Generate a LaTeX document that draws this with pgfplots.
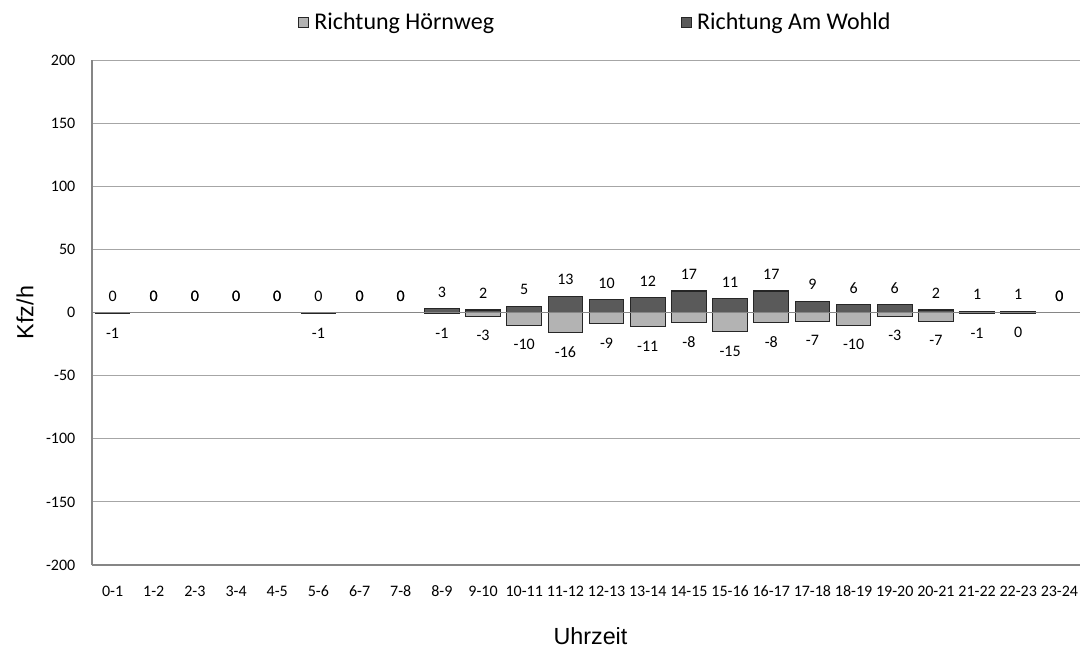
\documentclass[border=0pt]{standalone}
\usepackage{fontspec}
\setmainfont{Carlito}
\newfontfamily\arialfont{Liberation Sans}
\usepackage{pgfplots}
\usepackage{pgfplotstable}
\pgfplotsset{compat=1.18}

\definecolor{wohld}{HTML}{5A5A5A}
\definecolor{hoern}{HTML}{B3B3B3}
\definecolor{barline}{HTML}{262626}
\definecolor{gridc}{HTML}{A6A6A6}
\definecolor{axisc}{HTML}{868686}

% x: hour slot, w: Richtung Am Wohld, h: Richtung Hoernweg, hl: label of h
\pgfplotstableread{
x w h hl
0 0 -1 -1
1 0 0 0
2 0 0 0
3 0 0 0
4 0 0 0
5 0 -1 -1
6 0 0 0
7 0 0 0
8 3 -1 -1
9 2 -3 -3
10 5 -10 -10
11 13 -16 -16
12 10 -9 -9
13 12 -11 -11
14 17 -8 -8
15 11 -15 -15
16 17 -8 -8
17 9 -7 -7
18 6 -10 -10
19 6 -3 -3
20 2 -7 -7
21 1 -1 -1
22 1 -0.4 0
23 0 0 0
}\datatable

\begin{document}
\begin{tikzpicture}
\useasboundingbox (-69pt,-62.25pt) rectangle (746.25pt,423.75pt);
\begin{axis}[
    at={(0,0)}, anchor=south west,
    scale only axis,
    width=741pt, height=378.75pt,
    ybar, bar width=26pt, bar shift=0pt,
    xmin=-0.5, xmax=23.5,
    ymin=-200, ymax=200,
    ytick={-200,-150,...,200},
    xtick={0,...,23},
    xticklabels={0-1,1-2,2-3,3-4,4-5,5-6,6-7,7-8,8-9,9-10,10-11,11-12,12-13,13-14,14-15,15-16,16-17,17-18,18-19,19-20,20-21,21-22,22-23,23-24},
    /pgf/number format/assume math mode=true,
    tick label style={font=\fontsize{12}{14}\selectfont},
    xticklabel style={anchor=base, yshift=-24pt},
    yticklabel style={xshift=-9pt},
    major tick length=0pt,
    axis lines*=left,
    axis line style={color=axisc, line width=0.8pt},
    ymajorgrids, grid style={color=gridc, line width=0.6pt},
    extra y ticks={0}, extra y tick labels={},
    extra y tick style={grid style={color=axisc, line width=1.3pt}},
    axis on top,
    xlabel={\arialfont Uhrzeit},
    ylabel={\arialfont Kfz/h},
    label style={font=\fontsize{17.5}{20}\selectfont},
    xlabel style={at={(axis description cs:0.5045,-0.14)}, anchor=center},
    ylabel style={at={(axis description cs:-0.0678,0.5)}, anchor=center},
    legend style={at={(axis description cs:0.511,1.075)}, anchor=center,
        draw=none, fill=none, legend columns=2,
        font=\fontsize{18}{21}\selectfont,
        nodes={inner xsep=4pt},
        /tikz/every even column/.append style={column sep=136pt}},
    legend image code/.code={\draw[#1] (0pt,-3.75pt) rectangle (7.5pt,3.75pt);},
    nodes near coords style={font=\fontsize{12}{14}\selectfont},
]
\addplot[fill=hoern, draw=barline, line width=0.8pt]
    table[x=x, y=h] {\datatable};
\addlegendentry{Richtung Hörnweg}
\addplot[fill=wohld, draw=barline, line width=0.8pt,
    point meta=explicit symbolic, nodes near coords={\pgfplotspointmeta},
    every node near coord/.append style={anchor=base, yshift=8.5pt}]
    table[x=x, y=w, meta=w] {\datatable};
\addlegendentry{Richtung Am Wohld}
% labels of Richtung Hoernweg: below the bar when negative, above when zero
\addplot[draw=none, fill=none, forget plot,
    point meta=explicit symbolic, nodes near coords={\pgfplotspointmeta},
    y filter/.expression={\thisrow{h}<0 ? y : nan},
    every node near coord/.append style={anchor=base, yshift=-18.5pt}]
    table[x=x, y=h, meta=hl] {\datatable};
\addplot[draw=none, fill=none, forget plot,
    point meta=explicit symbolic, nodes near coords={\pgfplotspointmeta},
    y filter/.expression={\thisrow{h}<0 ? nan : y},
    every node near coord/.append style={anchor=base, yshift=8.5pt}]
    table[x=x, y=h, meta=hl] {\datatable};
\end{axis}
\end{tikzpicture}
\end{document}
